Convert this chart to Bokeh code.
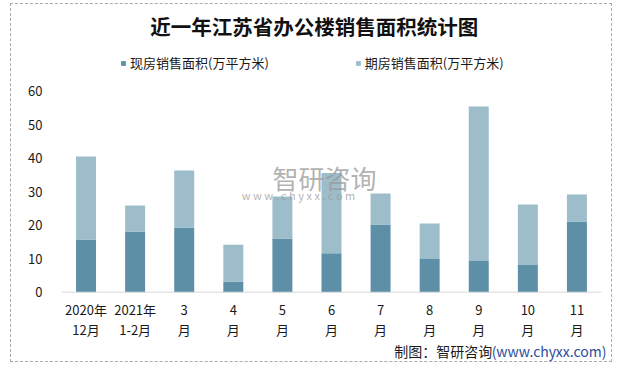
from bokeh.plotting import figure
from bokeh.models import Range1d, Legend, LegendItem, FixedTicker, ColumnDataSource
from bokeh.core.properties import value
from bokeh.embed import file_html
from bokeh.resources import INLINE

# ---- data ----
month_line1 = ["2020年", "2021年", "3", "4", "5", "6", "7", "8", "9", "10", "11"]
month_line2 = ["12月", "1-2月", "月", "月", "月", "月", "月", "月", "月", "月", "月"]
xianfang = [15.7, 18.1, 19.3, 3.2, 16.0, 11.6, 20.2, 10.1, 9.5, 8.3, 21.1]
qifang = [24.8, 7.8, 17.0, 11.0, 12.6, 24.0, 9.3, 10.4, 45.9, 17.9, 8.1]
series_names = ["现房销售面积(万平方米)", "期房销售面积(万平方米)"]
y_ticks = [0, 10, 20, 30, 40, 50, 60]
title_text = "近一年江苏省办公楼销售面积统计图"
source_a = "制图：智研咨询"
source_b = "(www.chyxx.com)"

FONT = "Noto Sans CJK SC"
DARK = "#5D8FA6"
LIGHT = "#9EBDCB"
TXT = "#1A1A1A"

n = len(month_line1)
xpos = [i + 0.5 for i in range(n)]

p = figure(width=602, height=359, x_range=Range1d(0, 11.245), y_range=Range1d(-21.28, 85.88),
           output_backend="svg", toolbar_location=None,
           min_border_left=50, min_border_right=0, min_border_top=0, min_border_bottom=0)
p.title.visible = False
p.xaxis.visible = False
p.xgrid.grid_line_color = None
p.ygrid.grid_line_color = None
p.outline_line_color = None

src = ColumnDataSource(dict(x=xpos, a=xianfang, b=qifang, l1=month_line1, l2=month_line2,
                            y1=[-5.3] * n, y2=[-11.1] * n))
r = p.vbar_stack(["a", "b"], x="x", width=0.407, source=src, color=[DARK, LIGHT], line_color=None)

# x axis baseline at 0
p.segment(x0=[0], y0=[0], x1=[n], y1=[0], line_color="#D9D9D9", line_width=1)
# category labels (two lines)
p.text(x="x", y="y1", text="l1", source=src, text_font=value(FONT), text_font_size="13px",
       text_align="center", text_baseline="middle", text_color=TXT)
p.text(x="x", y="y2", text="l2", source=src, text_font=value(FONT), text_font_size="13px",
       text_align="center", text_baseline="middle", text_color=TXT)

# title
p.text(x=[5.15], y=[79.6], text=[title_text], text_font=value(FONT), text_font_size="20.5px",
       text_font_style="bold", text_align="center", text_baseline="middle", text_color="#111111")

# source note
p.text(x=[6.78], y=[-17.6], text=[source_a], text_font=value(FONT), text_font_size="14px",
       text_align="left", text_baseline="middle", text_color=TXT)
p.text(x=[11.10], y=[-17.6], text=[source_b], text_font=value(FONT), text_font_size="14px",
       text_align="right", text_baseline="middle", text_color="#2B4D9C")

# watermark
p.text(x=[4.30], y=[34.1], text=["智研咨询"], text_font=value(FONT), text_font_size="26px",
       text_align="left", text_baseline="middle", text_color="#999999", text_alpha=0.75)
p.text(x=[3.67], y=[29.1], text=["w  w  w  .  c  h  y  x  x  .  c  o  m"], text_font=value(FONT),
       text_font_size="11px", text_align="left", text_baseline="middle",
       text_color="#999999", text_alpha=0.75)

legend = Legend(items=[LegendItem(label=series_names[0], renderers=[r[0]]),
                       LegendItem(label=series_names[1], renderers=[r[1]])],
                orientation="horizontal", location=(59, 291),
                glyph_width=6, glyph_height=6, label_standoff=4, spacing=86,
                label_height=16, label_text_font=FONT, label_text_font_size="13px",
                label_text_color=TXT, label_text_baseline="middle",
                border_line_color=None, background_fill_alpha=0, margin=0, padding=0)
p.add_layout(legend)

p.yaxis.ticker = FixedTicker(ticks=y_ticks)
p.yaxis.axis_line_color = None
p.yaxis.major_tick_line_color = None
p.yaxis.minor_tick_line_color = None
p.yaxis.major_tick_out = 0
p.yaxis.major_tick_in = 0
p.yaxis.major_label_text_font = FONT
p.yaxis.major_label_text_font_size = "13px"
p.yaxis.major_label_text_color = TXT
p.yaxis.major_label_standoff = 19

p.styles = {"border": "1px dashed #AAAAAA", "margin-left": "10px", "margin-top": "3px"}

open("out.html", "w").write(file_html(p, INLINE))
